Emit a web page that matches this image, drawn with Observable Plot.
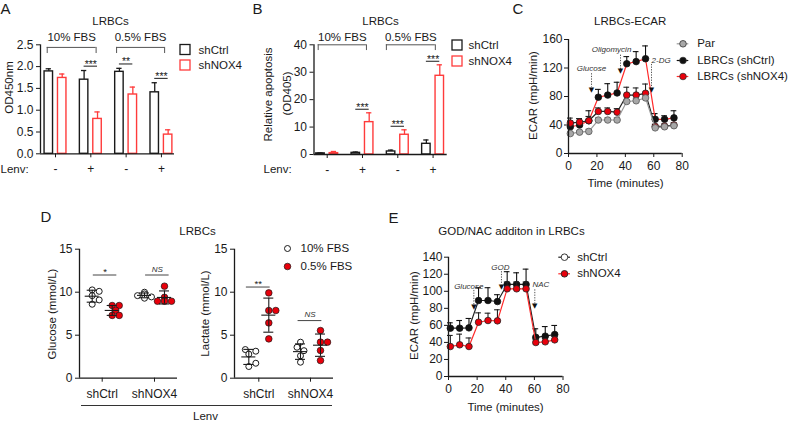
<!DOCTYPE html>
<html><head><meta charset="utf-8">
<script src="https://cdn.jsdelivr.net/npm/d3@7"></script>
<script src="https://cdn.jsdelivr.net/npm/@observablehq/plot@0.6"></script>
<style>
html,body{margin:0;padding:0;background:#fff;}
#fig{position:relative;width:789px;height:422px;overflow:hidden;background:#fff;}
#fig svg{position:absolute;left:0;top:0;}
</style></head><body><div id="fig"></div>
<script>
// ---------- data ----------
// Panel A / B
const lenvTicks = ["-", "+", "-", "+"];
const fbsGroups = ["10% FBS", "0.5% FBS"];
const seriesAB = ["shCtrl", "shNOX4"];
const odCtrl = [1.89, 1.70, 1.88, 1.41];
const odCtrlSem = [0.06, 0.21, 0.08, 0.22];
const odNox = [1.74, 0.80, 1.36, 0.44];
const odNoxSem = [0.09, 0.16, 0.17, 0.11];
const odSig = ["", "***", "**", "***"];
const apoCtrl = [0.4, 0.6, 1.1, 3.9];
const apoCtrlSem = [0.2, 0.3, 0.5, 1.4];
const apoNox = [0.5, 11.8, 7.2, 28.7];
const apoNoxSem = [0.6, 3.4, 1.8, 4.0];
const apoSig = ["", "***", "***", "***"];
// Panel C
const timeMin = [1.3, 7.8, 14.3, 21, 27.6, 34.2, 41, 47.6, 54.2, 61, 67.6, 74.2];
const seriesC = ["Par", "LBRCs (shCtrl)", "LBRCs (shNOX4)"];
const ecarPar = [28, 30, 31, 47, 47, 47, 73, 74, 78, 36, 37.5, 39];
const ecarParErr = [2, 2, 3, 3, 3, 3, 3, 3, 3, 2, 2, 2];
const ecarCtrl = [37.5, 40, 46, 79, 82, 85, 126, 129, 133, 48, 48, 50];
const ecarCtrlErr = [8, 9, 14, 11, 16, 15, 10, 14, 18, 8, 5, 10];
const ecarNox = [42.7, 44, 46, 59, 59, 58, 82, 82, 84.5, 38, 38.5, 40];
const ecarNoxErr = [7, 5, 6, 5, 5, 5, 11, 10, 13, 3, 3, 3];
const injectC = ["Glucose", "Oligomycin", "2-DG"];
// Panel D
const cellLines = ["shCtrl", "shNOX4"];
const fbsD = ["10% FBS", "0.5% FBS"];
const gluCtrl10 = [10.27, 10.1, 9.6, 9.1, 8.6];
const gluCtrl05 = [8.45, 8.45, 7.9, 7.3, 7.3];
const gluNox10 = [10.0, 9.8, 9.6, 9.45, 9.3];
const gluNox05 = [10.7, 9.4, 8.95, 8.95, 8.95];
const lacCtrl10 = [3.33, 3.14, 2.8, 1.74, 1.36];
const lacCtrl05 = [9.92, 7.87, 7.87, 6.43, 4.57];
const lacNox10 = [4.19, 3.6, 3.2, 2.6, 1.86];
const lacNox05 = [5.54, 4.19, 4.19, 3.22, 2.05];
const sigGlu = ["*", "NS"];
const sigLac = ["**", "NS"];
// Panel E
const seriesE = ["shCtrl", "shNOX4"];
const ecarECtrl = [56.7, 56.7, 57.1, 89.2, 89.2, 88, 108, 108, 108, 46, 47.3, 49.3];
const ecarECtrlErr = [6.3, 9, 11, 15, 15, 8, 15, 13.7, 18, 10, 11.3, 10.6];
const ecarENox = [35.2, 37.2, 35.2, 63.7, 65.7, 65.3, 102.9, 102.9, 102.9, 39.9, 40.7, 43];
const ecarENoxErr = [13, 12.5, 10, 11, 8.6, 13, 8, 8, 8, 4, 4, 4];
const injectE = ["Glucose", "GOD", "NAC"];

// ---------- helpers ----------
const fig = document.getElementById("fig");
const W = 789, H = 422;
const FONT = '"Liberation Sans", Arial, Helvetica, sans-serif';
const INK = "#1a1a1a";
const RED = "#ff3b3b";
const DOTRED = "#e8000b";
const GREY = "#a8a8a8";

function place(frame, opts) {
  const [l, r, t, b] = frame;
  const svg = Plot.plot({
    width: W, height: H,
    marginLeft: l, marginRight: W - r, marginTop: t, marginBottom: H - b,
    style: {fontFamily: FONT, fontSize: "12px", color: INK, background: "transparent", overflow: "visible"},
    ...opts
  });
  fig.appendChild(svg);
  return svg;
}

function barPanel(cfg) {
  const {frame, xDomain, yDomain, yTicks, yFmt, ctrl, ctrlErr, nox, noxErr, sig, sigGap, bracket, labelY} = cfg;
  const rows = [];
  ctrl.forEach((v, i) => rows.push({g: i + 1, s: 0, v, e: ctrlErr[i]}));
  nox.forEach((v, i) => rows.push({g: i + 1, s: 1, v, e: noxErr[i]}));
  const off = [-0.19, 0.19], hw = 0.12, cap = 0.075;
  const pos = d => d.g + off[d.s];
  const colors = [INK, RED];
  const marks = [];
  for (const s of [0, 1]) {
    const data = rows.filter(d => d.s === s);
    marks.push(
      Plot.ruleX(data, {x: pos, y1: "v", y2: d => d.v + d.e, stroke: colors[s], strokeWidth: 1.3}),
      Plot.ruleY(data, {y: d => d.v + d.e, x1: d => pos(d) - cap, x2: d => pos(d) + cap, stroke: colors[s], strokeWidth: 1.3}),
      Plot.rect(data, {x1: d => pos(d) - hw, x2: d => pos(d) + hw, y1: d => 0, y2: "v", fill: "white", stroke: colors[s], strokeWidth: 1.4})
    );
  }
  const sigRows = sig.map((t, i) => ({g: i + 1, t, y: Math.max(ctrl[i] + ctrlErr[i], nox[i] + noxErr[i]) + sigGap})).filter(d => d.t);
  marks.push(
    Plot.ruleY(sigRows, {y: "y", x1: d => d.g - 0.19, x2: d => d.g + 0.19, stroke: INK, strokeWidth: 1}),
    Plot.text(sigRows, {x: "g", y: "y", text: "t", dy: -2, fontSize: 10.5, lineAnchor: "middle", fill: INK})
  );
  // brackets
  const br = fbsGroups.map((t, i) => ({t, x1: bracket.spans[i][0], x2: bracket.spans[i][1]}));
  marks.push(
    Plot.ruleY(br, {y: () => bracket.top, x1: "x1", x2: "x2", stroke: "#555", strokeWidth: 1}),
    Plot.ruleX(br, {x: "x1", y1: () => bracket.top, y2: () => bracket.top - bracket.drop, stroke: "#555", strokeWidth: 1}),
    Plot.ruleX(br, {x: "x2", y1: () => bracket.top, y2: () => bracket.top - bracket.drop, stroke: "#555", strokeWidth: 1}),
    Plot.text(br, {x: d => (d.x1 + d.x2) / 2, y: () => labelY, text: "t", fontSize: 11.5, fill: INK})
  );
  marks.push(
    Plot.ruleY([yDomain[0]], {stroke: INK, strokeWidth: 1.3}),
    Plot.ruleX([xDomain[0]], {stroke: INK, strokeWidth: 1.3})
  );
  place(frame, {
    x: {domain: xDomain, ticks: [1, 2, 3, 4], tickFormat: d => lenvTicks[d - 1], tickSize: 4, tickPadding: 7, label: null},
    y: {domain: yDomain, ticks: yTicks, tickFormat: yFmt, tickSize: 4, tickPadding: 3, label: null},
    marks
  });
}

function swarm(values, pxPerVal, r) {
  const idx = d3.range(values.length).sort((a, b) => values[a] - values[b]);
  const placed = [], out = new Array(values.length).fill(0);
  for (const i of idx) {
    const y = values[i] * pxPerVal;
    for (const dx of [0, 3.5, -3.5, 7, -7, 10.5, -10.5]) {
      if (placed.every(p => Math.hypot(p.x - dx, p.y - y) >= 2 * r - 1)) { placed.push({x: dx, y}); out[i] = dx; break; }
    }
  }
  return out;
}

function dotPanel(cfg) {
  const {frame, xDomain, yDomain, groups, sig, sigY, sigSpan} = cfg;
  const pxX = (frame[1] - frame[0]) / (xDomain[1] - xDomain[0]);
  const pxY = (frame[3] - frame[2]) / (yDomain[1] - yDomain[0]);
  const fbsOff = [-10 / pxX, 10 / pxX];
  const pts = [], stats = [];
  groups.forEach(([c, f, vals]) => {
    const dx = swarm(vals, pxY, 3.3);
    const cx = c + 1 + fbsOff[f];
    vals.forEach((v, i) => pts.push({f, x: cx + dx[i] / pxX, v}));
    const m = d3.mean(vals), sd = d3.deviation(vals);
    stats.push({x: cx, m, lo: m - sd, hi: m + sd});
  });
  const mw = 7 / pxX, cw = 5 / pxX;
  const sigRows = sig.map((t, i) => ({t, c: i + 1, y: sigY[i]}));
  const marks = [
    Plot.dot(pts.filter(d => d.f === 0), {x: "x", y: "v", r: 3, fill: "white", stroke: INK, strokeWidth: 1}),
    Plot.dot(pts.filter(d => d.f === 1), {x: "x", y: "v", r: 3.3, fill: DOTRED, stroke: INK, strokeWidth: 0.7}),
    Plot.ruleY(stats, {y: "m", x1: d => d.x - mw, x2: d => d.x + mw, stroke: INK, strokeWidth: 1.1}),
    Plot.ruleX(stats, {x: "x", y1: "lo", y2: "hi", stroke: INK, strokeWidth: 1.1}),
    Plot.ruleY(stats, {y: "lo", x1: d => d.x - cw, x2: d => d.x + cw, stroke: INK, strokeWidth: 1.1}),
    Plot.ruleY(stats, {y: "hi", x1: d => d.x - cw, x2: d => d.x + cw, stroke: INK, strokeWidth: 1.1}),
    Plot.ruleY(sigRows, {y: "y", x1: d => d.c + sigSpan[0], x2: d => d.c + sigSpan[1], stroke: "#444", strokeWidth: 1}),
    Plot.text(sigRows.filter(d => d.t !== "NS"), {x: d => d.c + (sigSpan[0] + sigSpan[1]) / 2, y: "y", text: "t", dy: -3.5, fontSize: 9.5, fill: INK}),
    Plot.text(sigRows.filter(d => d.t === "NS"), {x: d => d.c + (sigSpan[0] + sigSpan[1]) / 2, y: "y", text: "t", dy: -6, fontSize: 8, fontStyle: "italic", fill: "#333"}),
    Plot.ruleY([0], {stroke: INK, strokeWidth: 1.3}),
    Plot.ruleX([xDomain[0]], {stroke: INK, strokeWidth: 1.3})
  ];
  place(frame, {
    x: {domain: xDomain, ticks: [1, 2], tickFormat: d => cellLines[d - 1], tickSize: 4, tickPadding: 7, label: null},
    y: {domain: yDomain, ticks: [0, 5, 10, 15], tickSize: 4, tickPadding: 3, label: null},
    marks
  });
}

function ecarPanel(cfg) {
  const {frame, yDomain, yTicks, series, arrows} = cfg;
  const marks = [];
  for (const s of series) {
    const rows = s.v.map((v, i) => ({t: timeMin[i], v, e: s.err[i]}));
    marks.push(
      Plot.ruleX(rows, {x: "t", y1: "v", y2: d => d.v + d.e, stroke: s.errColor, strokeWidth: 1.1}),
      Plot.ruleY(rows, {y: d => d.v + d.e, x1: d => d.t - 2, x2: d => d.t + 2, stroke: s.errColor, strokeWidth: 1.1}),
      Plot.line(rows, {x: "t", y: "v", stroke: s.line, strokeWidth: 1.2}),
      Plot.dot(rows, {x: "t", y: "v", r: 3.3, fill: s.dot, stroke: s.dotStroke, strokeWidth: 0.8})
    );
  }
  marks.push(
    Plot.ruleX(arrows, {x: "t", y1: "y1", y2: "y2", stroke: "#555", strokeWidth: 1, strokeDasharray: "1.3,1.3"}),
    Plot.text(arrows, {x: "t", y: "head", text: () => "▼", fontSize: 7, fontFamily: "DejaVu Sans", fill: "#111"}),
    Plot.text(arrows, {x: "tx", y: "ty", text: "label", fontSize: 8, fontStyle: "italic", fill: "#333"}),
    Plot.ruleY([0], {stroke: INK, strokeWidth: 1.3}),
    Plot.ruleX([0], {stroke: INK, strokeWidth: 1.3})
  );
  place(frame, {
    x: {domain: [0, 80], ticks: [0, 20, 40, 60, 80], tickSize: 4, tickPadding: 4, label: null},
    y: {domain: yDomain, ticks: yTicks, tickSize: 4, tickPadding: 2, label: null},
    marks
  });
}

// ---------- panels ----------
barPanel({
  frame: [40, 174, 44.3, 153.3], xDomain: [0.575, 4.37], yDomain: [0, 2.5],
  yTicks: [0, 0.5, 1, 1.5, 2, 2.5], yFmt: d3.format(".1f"),
  ctrl: odCtrl, ctrlErr: odCtrlSem, nox: odNox, noxErr: odNoxSem, sig: odSig, sigGap: 0.1,
  bracket: {top: 2.44, drop: 0.14, spans: [[0.765, 2.15], [2.73, 4.09]]}, labelY: 2.68
});
barPanel({
  frame: [313.5, 446.7, 44.3, 154], xDomain: [0.626, 4.40], yDomain: [0, 40],
  yTicks: [0, 10, 20, 30, 40], yFmt: d3.format("d"),
  ctrl: apoCtrl, ctrlErr: apoCtrlSem, nox: apoNox, noxErr: apoNoxSem, sig: apoSig, sigGap: 1.3,
  bracket: {top: 40, drop: 2.1, spans: [[0.745, 2.112], [2.677, 4.064]]}, labelY: 42.8
});
ecarPanel({
  frame: [568, 681.7, 39, 153], yDomain: [0, 160], yTicks: [0, 40, 80, 120, 160],
  series: [
    {v: ecarCtrl, err: ecarCtrlErr, dot: "#111", dotStroke: "#111", line: "#ff2a2a", errColor: "#111"},
    {v: ecarNox, err: ecarNoxErr, dot: DOTRED, dotStroke: "#222", line: "#222", errColor: "#222"},
    {v: ecarPar, err: ecarParErr, dot: GREY, dotStroke: "#555", line: "#9a9a9a", errColor: "#777"}
  ],
  arrows: [
    {label: injectC[0], t: 16.2, y1: 112, y2: 93, head: 90, tx: 16.2, ty: 118.8},
    {label: injectC[1], t: 36.6, y1: 138, y2: 118, head: 115.5, tx: 30.3, ty: 145.5},
    {label: injectC[2], t: 58.4, y1: 125, y2: 93, head: 90, tx: 65.2, ty: 130}
  ]
});
dotPanel({
  frame: [79, 177, 248.7, 377.7], xDomain: [0.566, 2.44], yDomain: [0, 15],
  groups: [[0, 0, gluCtrl10], [0, 1, gluCtrl05], [1, 0, gluNox10], [1, 1, gluNox05]],
  sig: sigGlu, sigY: [12, 12], sigSpan: [-0.17, 0.28]
});
dotPanel({
  frame: [234, 333, 248.7, 377.7], xDomain: [0.53, 2.445], yDomain: [0, 15],
  groups: [[0, 0, lacCtrl10], [0, 1, lacCtrl05], [1, 0, lacNox10], [1, 1, lacNox05]],
  sig: sigLac, sigY: [10.6, 6.7], sigSpan: [-0.24, 0.22]
});
ecarPanel({
  frame: [448, 562.5, 256.7, 376], yDomain: [0, 140], yTicks: [0, 20, 40, 60, 80, 100, 120, 140],
  series: [
    {v: ecarECtrl, err: ecarECtrlErr, dot: "#111", dotStroke: "#111", line: "#222", errColor: "#111"},
    {v: ecarENox, err: ecarENoxErr, dot: DOTRED, dotStroke: "#222", line: "#ff2a2a", errColor: "#222"}
  ],
  arrows: [
    {label: injectE[0], t: 17.7, y1: 101, y2: 84, head: 81.3, tx: 14.2, ty: 106},
    {label: injectE[1], t: 37, y1: 123, y2: 107.6, head: 104.8, tx: 36.3, ty: 128},
    {label: injectE[2], t: 60.3, y1: 101.7, y2: 85.3, head: 82.5, tx: 64.5, ty: 107.6}
  ]
});

// ---------- overlay: panel letters, titles, axis titles, legends ----------
const txt = (rows, o) => Plot.text(rows, {x: "x", y: "y", text: "t", fontFamily: FONT, fill: INK, lineAnchor: "middle", ...o});
const ov = [
  txt([{t: "A", x: 0, y: 3.2}, {t: "B", x: 252, y: 3.2}, {t: "C", x: 512, y: 3.2}, {t: "D", x: 40, y: 211}, {t: "E", x: 388, y: 211.5}], {fontSize: 15, textAnchor: "start", lineAnchor: "top"}),
  txt([{t: "LRBCs", x: 110, y: 21}, {t: "LRBCs", x: 380, y: 20.7}, {t: "LRBCs-ECAR", x: 629.7, y: 21},
       {t: "LRBCs", x: 197, y: 231}, {t: "GOD/NAC additon in LRBCs", x: 511, y: 231},
       {t: "Time (minutes)", x: 625, y: 183.3}, {t: "Time (minutes)", x: 505, y: 407}, {t: "Lenv", x: 205, y: 416}], {fontSize: 11.5}),
  txt([{t: "Lenv:", x: 0, y: 169}, {t: "Lenv:", x: 263, y: 169}], {fontSize: 11.5, textAnchor: "start"}),
  txt([{t: "OD450nm", x: 8.5, y: 87}, {t: "Relative apoptosis", x: 268.3, y: 94}, {t: "(OD405)", x: 286.7, y: 93},
       {t: "ECAR (mpH/min)", x: 533, y: 95}, {t: "Glucose (mmol/L)", x: 51.7, y: 313.5},
       {t: "Lactate (mmol/L)", x: 205, y: 313}, {t: "ECAR (mpH/min)", x: 414, y: 315}], {fontSize: 11.5, rotate: -90}),
  // legend A & B
  Plot.rect([{x1: 180, x2: 190, y1: 44.5, y2: 54.5, c: INK}, {x1: 180, x2: 190, y1: 60, y2: 70, c: RED},
             {x1: 452, x2: 462, y1: 40, y2: 50, c: INK}, {x1: 452, x2: 462, y1: 56, y2: 66, c: RED}],
            {x1: "x1", x2: "x2", y1: "y1", y2: "y2", fill: "white", stroke: d => d.c, strokeWidth: 1.3}),
  txt([{t: seriesAB[0], x: 198, y: 50}, {t: seriesAB[1], x: 198, y: 65}, {t: seriesAB[0], x: 468, y: 45}, {t: seriesAB[1], x: 468, y: 61}], {fontSize: 11.5, textAnchor: "start"}),
  // legend C
  Plot.ruleY([{y: 43.3, c: "#9a9a9a"}, {y: 60, c: "#111"}, {y: 76, c: "#ff2a2a"}], {y: "y", x1: () => 676.7, x2: () => 688.3, stroke: d => d.c, strokeWidth: 1.2}),
  Plot.dot([{y: 43.3, f: GREY}, {y: 60, f: "#111"}, {y: 76, f: DOTRED}], {x: () => 682.5, y: "y", r: 3.3, fill: d => d.f, stroke: "#333", strokeWidth: 0.8}),
  txt(seriesC.map((t, i) => ({t, x: 696.7, y: [43.3, 60, 76][i]})), {fontSize: 11.5, textAnchor: "start"}),
  // legend D
  Plot.dot([{x: 287, y: 248}], {x: "x", y: "y", r: 3, fill: "white", stroke: INK, strokeWidth: 1}),
  Plot.dot([{x: 287, y: 266}], {x: "x", y: "y", r: 3.3, fill: DOTRED, stroke: INK, strokeWidth: 0.7}),
  txt(fbsD.map((t, i) => ({t, x: 300, y: [248, 266][i]})), {fontSize: 11.5, textAnchor: "start"}),
  Plot.ruleY([{y: 405}], {y: "y", x1: () => 81, x2: () => 332, stroke: "#333", strokeWidth: 1}),
  // legend E
  Plot.ruleY([{y: 256.7, c: "#222"}, {y: 273.3, c: "#ff2a2a"}], {y: "y", x1: () => 558.3, x2: () => 570, stroke: d => d.c, strokeWidth: 1.2}),
  Plot.dot([{y: 256.7, f: "white"}, {y: 273.3, f: DOTRED}], {x: () => 564, y: "y", r: 3.3, fill: d => d.f, stroke: "#222", strokeWidth: 0.9}),
  txt(seriesE.map((t, i) => ({t, x: 576.7, y: [256.7, 273.3][i]})), {fontSize: 11.5, textAnchor: "start"})
];
place([0, W, 0, H], {
  x: {domain: [0, W], range: [0, W], axis: null},
  y: {domain: [0, H], range: [0, H], axis: null},
  color: {type: "identity"},
  marks: ov
});
</script></body></html>
